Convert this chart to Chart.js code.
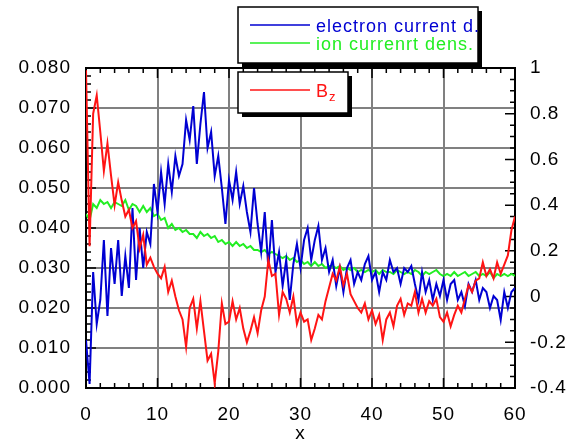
<!DOCTYPE html>
<html><head><meta charset="utf-8">
<script src="https://cdn.jsdelivr.net/npm/chart.js@4"></script>
<style>html,body{margin:0;padding:0;background:#fff}canvas{display:block}</style>
</head><body>
<canvas id="c" width="575" height="443" style="width:575px;height:443px"></canvas>
<script>
// ---- data (x = 0, 0.5, 1.0 ... 60) ----
const X_STEP = 0.5;
const electronCurrent = [
  0.012,0.001,0.029,0.016,0.022,0.037,0.018,0.035,0.026,0.037,
  0.023,0.033,0.025,0.045,0.027,0.040,0.030,0.039,0.036,0.051,
  0.044,0.054,0.046,0.056,0.049,0.058,0.053,0.056,0.067,0.062,
  0.0705,0.056,0.066,0.074,0.060,0.064,0.053,0.058,0.050,0.041,
  0.052,0.047,0.054,0.046,0.0505,0.044,0.039,0.050,0.041,0.034,
  0.044,0.030,0.042,0.029,0.034,0.0255,0.032,0.022,0.031,0.036,
  0.030,0.037,0.040,0.032,0.037,0.0405,0.032,0.035,0.029,0.032,
  0.0255,0.030,0.024,0.030,0.032,0.026,0.029,0.027,0.031,0.033,
  0.027,0.029,0.024,0.029,0.027,0.032,0.029,0.030,0.026,0.030,
  0.029,0.0305,0.026,0.022,0.029,0.024,0.027,0.022,0.026,0.023,
  0.027,0.022,0.026,0.027,0.022,0.024,0.0205,0.026,0.024,0.027,
  0.022,0.025,0.024,0.020,0.023,0.022,0.017,0.024,0.020,0.024,
  0.025
];
const ionCurrent = [
  0.0435,0.042,0.046,0.045,0.047,0.046,0.0465,0.045,0.0465,0.046,
  0.0455,0.047,0.0445,0.046,0.0455,0.044,0.0455,0.044,0.045,0.043,
  0.0435,0.042,0.0425,0.040,0.041,0.0395,0.040,0.039,0.0395,0.0385,
  0.0385,0.0375,0.039,0.038,0.0385,0.0375,0.038,0.0365,0.037,0.036,
  0.0365,0.0355,0.0365,0.0355,0.036,0.035,0.0355,0.0345,0.0345,0.034,
  0.0345,0.0335,0.034,0.0335,0.033,0.0325,0.033,0.032,0.0325,0.0315,
  0.032,0.031,0.0315,0.0305,0.0315,0.0305,0.031,0.030,0.0305,0.0305,
  0.030,0.0305,0.0295,0.030,0.0295,0.030,0.029,0.0295,0.029,0.0295,
  0.029,0.0295,0.0285,0.0295,0.029,0.029,0.0285,0.0295,0.029,0.0285,
  0.029,0.0285,0.0295,0.029,0.028,0.029,0.0285,0.029,0.0295,0.0285,
  0.028,0.0285,0.028,0.029,0.028,0.0285,0.029,0.028,0.0285,0.029,
  0.028,0.0285,0.028,0.029,0.0275,0.0285,0.028,0.0285,0.028,0.0285,
  0.028
];
const bz = [
  0.99,0.22,0.80,0.88,0.72,0.55,0.67,0.53,0.40,0.50,
  0.42,0.35,0.38,0.30,0.33,0.21,0.27,0.14,0.17,0.13,
  0.10,0.08,0.13,0.02,0.07,0.00,-0.06,-0.10,-0.22,-0.05,
  -0.01,-0.14,-0.02,-0.15,-0.28,-0.25,-0.38,-0.24,-0.03,-0.12,
  -0.11,-0.02,-0.10,-0.05,-0.14,-0.20,-0.15,-0.09,-0.16,-0.06,
  0.00,0.16,0.09,0.10,-0.08,0.02,-0.01,-0.07,0.00,-0.12,
  -0.07,-0.11,-0.10,-0.19,-0.14,-0.08,-0.10,-0.02,0.04,0.10,
  0.07,0.13,0.05,0.10,0.01,-0.02,-0.05,-0.07,-0.03,-0.10,
  -0.06,-0.12,-0.08,-0.19,-0.10,-0.07,-0.13,-0.04,-0.01,-0.08,
  -0.03,-0.04,0.02,-0.07,-0.01,-0.07,-0.02,-0.04,-0.01,-0.09,
  -0.11,-0.07,-0.13,-0.08,-0.04,-0.07,-0.01,0.05,0.02,0.07,
  0.08,0.15,0.09,0.12,0.08,0.15,0.10,0.14,0.18,0.29,
  0.35
];
const seriesLabels = ['electron current d.', 'ion currenrt dens.', 'B'];
const bzSubscript = 'z';
const xTitle = 'x';

// ---- styling ----
const FONT = 'Liberation Sans, Arial, Helvetica, sans-serif';
const COL_BLUE = '#0000d2', COL_GREEN = '#22ee22', COL_RED = '#ff1414';
Chart.defaults.font.family = FONT;
Chart.defaults.font.size = 19;
Chart.defaults.color = '#000';

const toPts = arr => arr.map((v, i) => ({x: i * X_STEP, y: v}));

const spacing = {
  id: 'spacing',
  beforeLayout(chart) { chart.ctx.letterSpacing = '1px'; },
  beforeDraw(chart) { chart.ctx.letterSpacing = '1px'; }
};

const frame = {
  id: 'frame',
  beforeDatasetsDraw(chart) {
    const {ctx, chartArea: a, scales} = chart;
    const sx = scales.x, yl = scales.yLeft, yr = scales.yRight;
    ctx.save();
    ctx.strokeStyle = '#000';
    ctx.lineWidth = 1.5;
    ctx.beginPath();
    for (let i = 0; i <= 30; i++) {
      const px = sx.getPixelForValue(i * 2);
      const len = i % 5 === 0 ? 10 : 5;
      ctx.moveTo(px, a.bottom); ctx.lineTo(px, a.bottom - len);
      ctx.moveTo(px, a.top); ctx.lineTo(px, a.top + len);
    }
    for (let i = 0; i <= 40; i++) {
      const py = yl.getPixelForValue(i * 0.002);
      const len = i % 5 === 0 ? 10 : 5;
      ctx.moveTo(a.left, py); ctx.lineTo(a.left + len, py);
    }
    for (let i = 0; i <= 28; i++) {
      const py = yr.getPixelForValue(-0.4 + i * 0.05);
      const len = i % 4 === 0 ? 10 : 5;
      ctx.moveTo(a.right, py); ctx.lineTo(a.right - len, py);
    }
    ctx.stroke();
    ctx.lineWidth = 2;
    ctx.strokeRect(a.left, a.top, a.right - a.left, a.bottom - a.top);
    ctx.restore();
  },
  afterDraw(chart) {
    const ctx = chart.ctx;
    const ds = chart.data.datasets;
    const box = (x, y, w, h) => {
      ctx.fillStyle = '#000'; ctx.fillRect(x + 4, y + 4, w, h);
      ctx.fillStyle = '#fff'; ctx.fillRect(x, y, w, h);
      ctx.strokeStyle = '#000'; ctx.lineWidth = 1.5; ctx.strokeRect(x, y, w, h);
    };
    const entry = (d, ly, ty) => {
      ctx.strokeStyle = d.borderColor; ctx.lineWidth = 1.5;
      ctx.beginPath(); ctx.moveTo(250, ly); ctx.lineTo(310, ly); ctx.stroke();
      ctx.fillStyle = d.borderColor;
      ctx.font = '18px ' + FONT;
      ctx.textAlign = 'left'; ctx.textBaseline = 'alphabetic';
      ctx.fillText(d.label, 316, ty);
      return ctx.measureText(d.label).width;
    };
    ctx.save();
    ctx.letterSpacing = '1px';
    box(238, 7, 240, 56);
    entry(ds[0], 25, 32);
    entry(ds[1], 43, 50);
    box(238, 72, 110, 41);
    const w = entry(ds[2], 90, 97);
    ctx.font = '13px ' + FONT;
    ctx.fillText(bzSubscript, 316 + w, 101);
    ctx.restore();
  }
};

new Chart(document.getElementById('c'), {
  type: 'line',
  data: {
    datasets: [
      {label: seriesLabels[0], data: toPts(electronCurrent), borderColor: COL_BLUE, yAxisID: 'yLeft', order: 1},
      {label: seriesLabels[1], data: toPts(ionCurrent), borderColor: COL_GREEN, yAxisID: 'yLeft', order: 2},
      {label: seriesLabels[2], data: toPts(bz), borderColor: COL_RED, yAxisID: 'yRight', order: 0}
    ]
  },
  options: {
    responsive: false,
    animation: false,
    devicePixelRatio: 1,
    elements: {line: {borderWidth: 2, tension: 0}, point: {radius: 0}},
    layout: {padding: {top: 68, left: 0, right: 0, bottom: 0}},
    plugins: {legend: {display: false}, tooltip: {enabled: false}},
    scales: {
      x: {
        type: 'linear', min: 0, max: 60,
        ticks: {stepSize: 10, padding: 15, maxRotation: 0, autoSkip: false},
        grid: {color: '#808080', lineWidth: 2, drawTicks: false},
        border: {display: false},
        title: {display: true, text: xTitle, font: {size: 19}, padding: {top: 0, bottom: -2}},
        afterFit(s) { s.height = 55; }
      },
      yLeft: {
        type: 'linear', position: 'left', min: 0, max: 0.08,
        ticks: {stepSize: 0.01, padding: 15, callback: v => v.toFixed(3)},
        grid: {color: '#808080', lineWidth: 2, drawTicks: false},
        border: {display: false},
        afterFit(s) { s.width = 86; }
      },
      yRight: {
        type: 'linear', position: 'right', min: -0.4, max: 1,
        ticks: {stepSize: 0.2, padding: 15, callback: v => String(Number(v.toFixed(1)))},
        grid: {display: false, drawTicks: false},
        border: {display: false},
        afterFit(s) { s.width = 60; }
      }
    }
  },
  plugins: [spacing, frame]
});
</script>
</body></html>
